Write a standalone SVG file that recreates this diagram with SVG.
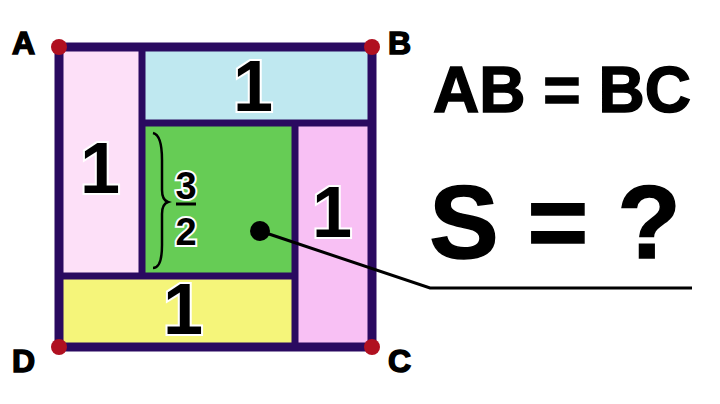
<svg xmlns="http://www.w3.org/2000/svg" width="720" height="404" viewBox="0 0 720 404">
<style>
.n{font-family:"Liberation Sans",Arial,sans-serif;font-weight:bold;fill:#000;stroke:#fff;stroke-width:4;paint-order:stroke;text-anchor:middle}
.l{font-family:"Liberation Sans",Arial,sans-serif;font-weight:bold;fill:#000;stroke:#000;stroke-width:1.5}
.e{stroke:#2a0a60;stroke-width:7}
</style>
<rect width="720" height="404" fill="#fff"/>
<g id="left"><rect x="59" y="47" width="83" height="229" fill="#fde0f8"/><text class="n" x="100" y="193" font-size="72">1</text></g>
<g id="top"><rect x="142" y="47" width="230" height="76" fill="#bfe8f0"/><text class="n" x="253" y="111" font-size="72">1</text></g>
<g id="right"><rect x="295" y="123" width="77" height="224" fill="#f8c0f4"/><text class="n" x="332" y="237" font-size="72">1</text></g>
<g id="bottom"><rect x="59" y="276" width="236" height="71" fill="#f5f57a"/><text class="n" x="183" y="334" font-size="72">1</text></g>
<g id="center"><rect x="142" y="123" width="153" height="153" fill="#66cc55"/>
<path d="M153,133 Q162,135 162,160 L162,190 Q162,200 168,202 Q162,204 162,214 L162,245 Q162,268 153,268" fill="none" stroke="#000" stroke-width="2.5"/>
<text class="n" x="186" y="199" font-size="38">3</text>
<line x1="176" y1="204" x2="196" y2="204" stroke="#000" stroke-width="3"/>
<text class="n" x="186" y="245" font-size="38">2</text>
</g>
<g id="edges">
<line class="e" x1="142" y1="47" x2="142" y2="276"/>
<line class="e" x1="142" y1="123" x2="372" y2="123"/>
<line class="e" x1="295" y1="123" x2="295" y2="347"/>
<line class="e" x1="59" y1="276" x2="295" y2="276"/>
<rect x="59" y="47" width="313" height="300" fill="none" stroke="#2a0a60" stroke-width="9"/>
<polyline points="260,231 430,288 692,288" fill="none" stroke="#000" stroke-width="3"/>
<circle cx="260" cy="231" r="10" fill="#000"/>
</g>
<g id="corners" fill="#b01020">
<circle cx="59" cy="47" r="8"/><circle cx="372" cy="47" r="8"/><circle cx="59" cy="347" r="8"/><circle cx="372" cy="347" r="8"/>
</g>
<g id="labels">
<text class="l" x="12" y="54" font-size="32">A</text>
<text class="l" x="388" y="54" font-size="32">B</text>
<text class="l" x="12" y="372" font-size="32">D</text>
<text class="l" x="388" y="372" font-size="32">C</text>
<text class="l" x="562" y="112" font-size="64" text-anchor="middle">AB = BC</text>
<text class="l" x="555" y="258" font-size="104" text-anchor="middle">S = ?</text>
</g>
</svg>
